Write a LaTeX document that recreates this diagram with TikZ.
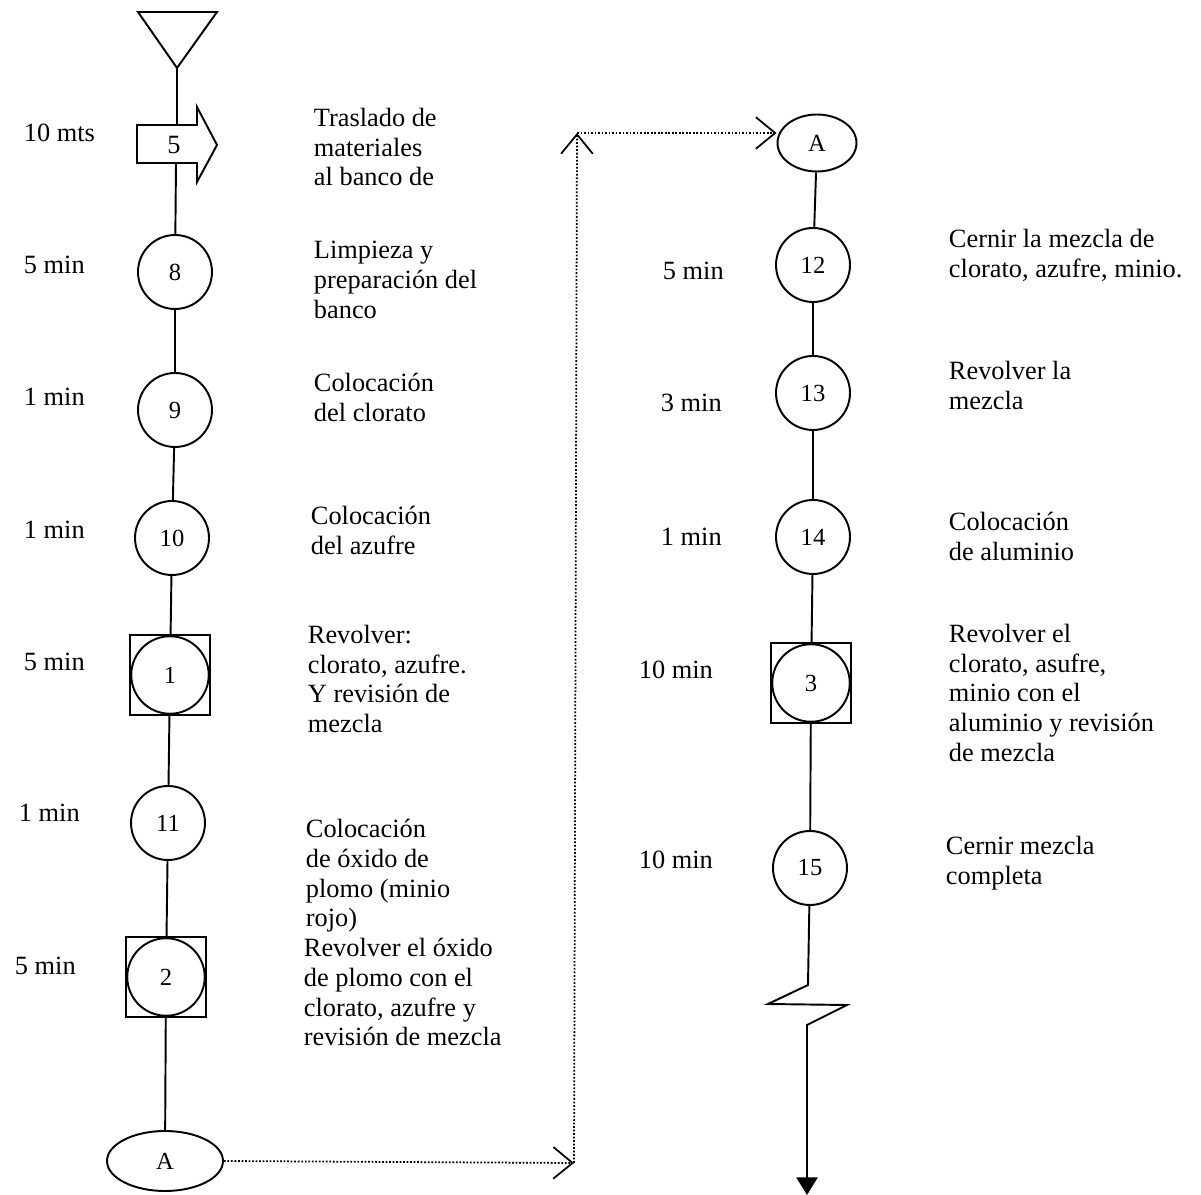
\documentclass[tikz,border=0pt]{standalone}
\usepackage{fontspec}
\setmainfont{Liberation Serif}
\usetikzlibrary{arrows.meta,shapes.geometric}
\begin{document}
\begin{tikzpicture}[x=0.02cm,y=-0.02cm,line width=1.1pt,
 op/.style={draw,circle,minimum size=1.48cm,inner sep=0pt,font=\fontsize{14}{16}\selectfont},
 opin/.style={draw,circle,minimum size=1.55cm,inner sep=0pt,font=\fontsize{14}{16}\selectfont},
 sq/.style={draw,rectangle,minimum size=1.6cm,inner sep=0pt},
 desc/.style={anchor=north west,align=left,inner sep=0pt,font=\fontsize{15}{17}\selectfont},
 tm/.style={anchor=west,inner sep=0pt,font=\fontsize{15}{17}\selectfont},
 dotlink/.style={densely dotted,line width=1pt,-{Straight Barb[length=11pt,width=18pt,line width=1pt]}}
]
\useasboundingbox (0,0) rectangle (1201,1195);

% ---- left column ----
\draw (138,12) -- (217,12) -- (177,68) -- cycle;
\coordinate (tri) at (177,68);
\draw (137,125) -- (197,125) -- (197,107) -- (217,145) -- (197,182) -- (197,163) -- (137,163) -- cycle;
\node[inner sep=0pt,font=\fontsize{15}{17}\selectfont] (a5) at (174,145) {5};
\coordinate (a5t) at (177,125);
\coordinate (a5b) at (176,163);

\node[op] (c8) at (175,272) {8};
\node[op] (c9) at (175,410) {9};
\node[op] (c10) at (172,538) {10};
\node[sq] (s1) at (170,675) {};
\node[opin] (c1) at (170,675) {1};
\node[op] (c11) at (168,823) {11};
\node[sq] (s2) at (166,977) {};
\node[opin] (c2) at (166,977) {2};
\node[draw,ellipse,minimum width=2.32cm,minimum height=1.2cm,inner sep=0pt,font=\fontsize{14}{16}\selectfont] (Al) at (165,1161) {A};

\draw (tri) -- (a5t);
\draw (a5b) -- (c8);
\draw (c8) -- (c9);
\draw (c9) -- (c10);
\draw (c10) -- (s1);
\draw (s1) -- (c11);
\draw (c11) -- (s2);
\draw (s2) -- (Al);

% left times
\node[tm] (t5) at (23,133) {10 mts};
\node[tm] (t8) at (23,265) {5 min};
\node[tm] (t9) at (23,397) {1 min};
\node[tm] (t10) at (23,530) {1 min};
\node[tm] (t1) at (23,662) {5 min};
\node[tm] (t11) at (18,813) {1 min};
\node[tm] (t2) at (14,966) {5 min};

% left descriptions
\node[desc] (d5) at (313,107) {Traslado de\\materiales\\al banco de};
\node[desc] (d8) at (313,240) {Limpieza y\\preparación del\\banco};
\node[desc] (d9) at (313,372) {Colocación\\del clorato};
\node[desc] (d10) at (310,505) {Colocación\\del azufre};
\node[desc] (d1) at (307,624) {Revolver:\\clorato, azufre.\\Y revisión de\\mezcla};
\node[desc] (d11) at (305,818) {Colocación\\de óxido de\\plomo (minio\\rojo)};
\node[desc] (d2) at (303,937) {Revolver el óxido\\de plomo con el\\clorato, azufre y\\revisión de mezcla};

% ---- right column ----
\node[draw,ellipse,minimum width=1.58cm,minimum height=1.14cm,inner sep=0pt,font=\fontsize{14}{16}\selectfont] (Ar) at (817,143) {A};
\node[op] (c12) at (813,265) {12};
\node[op] (c13) at (813,393) {13};
\node[op] (c14) at (813,537) {14};
\node[sq] (s3) at (811,683) {};
\node[opin] (c3) at (811,683) {3};
\node[op] (c15) at (810,868) {15};
\coordinate (z1) at (808,985);
\coordinate (z2) at (768,1004);
\coordinate (z3) at (847,1005);
\coordinate (z4) at (807,1025);
\coordinate (zend) at (807,1195);

\draw (Ar) -- (c12);
\draw (c12) -- (c13);
\draw (c13) -- (c14);
\draw (c14) -- (s3);
\draw (s3) -- (c15);
\draw[-{Triangle[length=10pt,width=12pt]}] (c15) -- (z1) -- (z2) -- (z3) -- (z4) -- (zend);

% ---- connector A ----
\coordinate (cb) at (574,1163);
\coordinate (ct) at (577,133);
\draw[dotlink] (Al.east) -- (cb);
\draw[dotlink] (cb) -- (ct);
\draw[dotlink] (ct) -- (ct -| Ar.west);

% right times
\node[tm] (t12) at (662,271) {5 min};
\node[tm] (t13) at (660,403) {3 min};
\node[tm] (t14) at (660,537) {1 min};
\node[tm] (t3) at (638,670) {10 min};
\node[tm] (t15) at (638,860) {10 min};

% right descriptions
\node[desc] (d12) at (948,228) {Cernir la mezcla de\\clorato, azufre, minio.};
\node[desc] (d13) at (948,360) {Revolver la\\mezcla};
\node[desc] (d14) at (948,511) {Colocación\\de aluminio};
\node[desc] (d3) at (948,623) {Revolver el\\clorato, asufre,\\minio con el\\aluminio y revisión\\de mezcla};
\node[desc] (d15) at (945,835) {Cernir mezcla\\completa};
\end{tikzpicture}
\end{document}
